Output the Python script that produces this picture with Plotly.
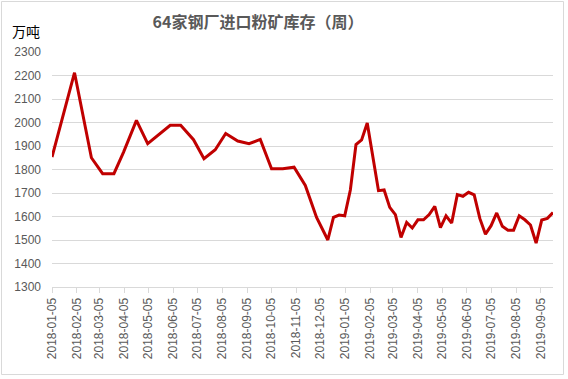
import plotly.graph_objects as go

dates = [
    "2018-01-05", "2018-02-02", "2018-02-23", "2018-03-09", "2018-03-23", "2018-04-04",
    "2018-04-20", "2018-05-04", "2018-06-01", "2018-06-14", "2018-06-30", "2018-07-13",
    "2018-07-27", "2018-08-09", "2018-08-24", "2018-09-07", "2018-09-21", "2018-10-05",
    "2018-10-19", "2018-11-02", "2018-11-16", "2018-11-30", "2018-12-14", "2018-12-21",
    "2018-12-28", "2019-01-04", "2019-01-11", "2019-01-18", "2019-01-25", "2019-02-01",
    "2019-02-15", "2019-02-22", "2019-03-01", "2019-03-08", "2019-03-15", "2019-03-22",
    "2019-03-29", "2019-04-05", "2019-04-12", "2019-04-19", "2019-04-26", "2019-05-03",
    "2019-05-10", "2019-05-17", "2019-05-24", "2019-05-31", "2019-06-07", "2019-06-14",
    "2019-06-21", "2019-06-28", "2019-07-05", "2019-07-12", "2019-07-19", "2019-07-26",
    "2019-08-02", "2019-08-09", "2019-08-16", "2019-08-23", "2019-08-30", "2019-09-06",
    "2019-09-13", "2019-09-20",
]
inventory = [
    1853, 2212, 1850, 1782, 1782, 1874,
    2009, 1910, 1988, 1988, 1927, 1846,
    1884, 1953, 1921, 1910, 1928, 1803,
    1803, 1810, 1732, 1596, 1500, 1596,
    1606, 1603, 1713, 1906, 1926, 1998,
    1710, 1713, 1639, 1608, 1511, 1575,
    1551, 1586, 1586, 1608, 1643, 1553,
    1603, 1572, 1693, 1686, 1703, 1692,
    1592, 1525, 1561, 1615, 1558, 1542,
    1542, 1603, 1586, 1564, 1487, 1585,
    1592, 1617,
]

title_text = "64家钢厂进口粉矿库存（周）"
unit_text = "万吨"

fig = go.Figure()
fig.add_trace(go.Scatter(
    x=dates, y=inventory, mode="lines",
    line=dict(color="#C00000", width=3),
    showlegend=False, hoverinfo="x+y",
))

W, H = 568, 379
ml, mr, mt, mb = 52, 15, 52, 92
pw, ph = W - ml - mr, H - mt - mb

fig.update_layout(
    width=W, height=H,
    margin=dict(l=ml, r=mr, t=mt, b=mb, autoexpand=False),
    paper_bgcolor="white", plot_bgcolor="white",
    font=dict(family="Liberation Sans, Arial, sans-serif", color="#595959", size=12),
    title=dict(
        text=title_text, x=258 / W, xanchor="center", xref="container",
        y=1 - 22 / H, yanchor="middle", yref="container",
        font=dict(family="Noto Sans CJK SC, sans-serif", size=16, color="#595959", weight="bold"),
    ),
    xaxis=dict(
        type="date",
        range=["2018-01-05", "2019-09-20"],
        tick0="2018-01-05", dtick="M1",
        tickformat="%Y-%m-%d",
        tickangle=-90,
        ticks="outside", ticklen=5, tickcolor="#D9D9D9",
        showline=True, linecolor="#D9D9D9", linewidth=1,
        showgrid=False, zeroline=False,
        tickfont=dict(size=12, color="#595959"),
    ),
    yaxis=dict(
        range=[1300, 2300], dtick=100,
        showgrid=True, gridcolor="#D9D9D9", gridwidth=1,
        zeroline=False, showline=False, ticks="",
        ticklabelstandoff=10,
        tickfont=dict(size=12, color="#595959"),
    ),
    annotations=[dict(
        text=unit_text, xref="paper", yref="paper",
        x=(10 - ml) / pw, y=1 + (mt - 31) / ph,
        xanchor="left", yanchor="middle", showarrow=False,
        font=dict(family="Noto Sans CJK SC, sans-serif", size=14, color="#000000"),
    )],
    shapes=[dict(
        type="rect", xref="paper", yref="paper",
        x0=(1.5 - ml) / pw, x1=(W - 4.5 - ml) / pw,
        y0=-(mb - 4.5) / ph, y1=1 + (mt - 1.5) / ph,
        line=dict(color="#D9D9D9", width=1),
    )],
)

fig.write_html(
    "out.html",
    config={"displayModeBar": False},
    post_script="document.body.style.margin='0';document.body.style.padding='0';",
)
